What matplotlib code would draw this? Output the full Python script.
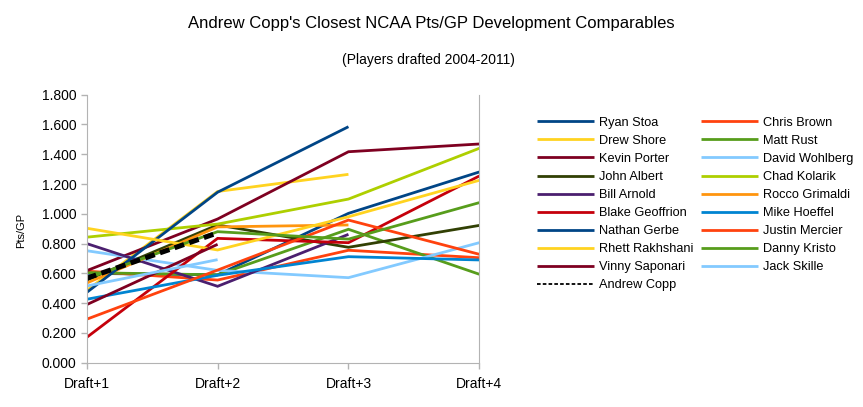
import numpy as np
import matplotlib
matplotlib.use("Agg")
import matplotlib.pyplot as plt

plt.rcParams["font.family"] = ["Liberation Sans", "DejaVu Sans"]

nan = np.nan

stages = ["Draft+1", "Draft+2", "Draft+3", "Draft+4"]

# comparables, in the order the sheet lists them
players = [
    "Ryan Stoa", "Chris Brown", "Drew Shore", "Matt Rust", "Kevin Porter",
    "David Wohlberg", "John Albert", "Chad Kolarik", "Bill Arnold",
    "Rocco Grimaldi", "Blake Geoffrion", "Mike Hoeffel", "Nathan Gerbe",
    "Justin Mercier", "Rhett Rakhshani", "Danny Kristo", "Vinny Saponari",
    "Jack Skille",
]

ryan_stoa = [0.600, 0.590, 1.003, 1.281]
chris_brown = [0.615, 0.555, 0.755, 0.705]
drew_shore = [0.485, 1.150, 1.265, nan]
matt_rust = [0.605, 0.590, 0.896, 0.594]
kevin_porter = [0.618, 0.965, 1.417, 1.469]
david_wohlberg = [0.752, 0.620, 0.571, 0.806]
john_albert = [0.555, 0.925, 0.775, 0.922]
chad_kolarik = [0.843, 0.931, 1.099, 1.440]
bill_arnold = [0.800, 0.513, 0.862, nan]
rocco_grimaldi = [0.535, 0.912, 0.925, nan]
blake_geoffrion = [0.170, 0.835, 0.806, 1.254]
mike_hoeffel = [0.426, 0.587, 0.712, 0.690]
nathan_gerbe = [0.472, 1.145, 1.585, nan]
justin_mercier = [0.292, 0.622, 0.958, 0.728]
rhett_rakhshani = [0.903, 0.757, 0.980, 1.225]
danny_kristo = [0.565, 0.880, 0.830, 1.075]
vinny_saponari = [0.390, 0.795, nan, nan]
jack_skille = [0.515, 0.692, nan, nan]

andrew_copp = [0.567, 0.872, nan, nan]

values = [
    ryan_stoa, chris_brown, drew_shore, matt_rust, kevin_porter,
    david_wohlberg, john_albert, chad_kolarik, bill_arnold, rocco_grimaldi,
    blake_geoffrion, mike_hoeffel, nathan_gerbe, justin_mercier,
    rhett_rakhshani, danny_kristo, vinny_saponari, jack_skille,
]

# office chart default palette, wraps after 12
palette = ["#004586", "#ff420e", "#ffd320", "#579d1c", "#7e0021", "#83caff",
           "#314004", "#aecf00", "#4b1f6f", "#ff950e", "#c5000b", "#0084d1"]

fig = plt.figure(figsize=(8.63, 4.07), dpi=100)
ax = fig.add_axes([0.1005, 0.1089, 0.4549, 0.6584])

x = np.arange(len(stages))
lines = []
for i, (name, vals) in enumerate(zip(players, values)):
    ln, = ax.plot(x, vals, color=palette[i % 12], lw=2.0, label=name,
                  solid_capstyle="butt", solid_joinstyle="miter")
    lines.append(ln)

copp_line, = ax.plot(x, andrew_copp, color="black", lw=3.6,
                     dashes=(2.0, 1.1), label="Andrew Copp")

ax.set_xlim(0, 3)
ax.set_ylim(0, 1.8)
ax.set_xticks(x)
ax.set_xticklabels(stages, fontsize=10)
ax.set_yticks(np.arange(0, 1.81, 0.2))
ax.set_yticklabels(["%.3f" % v for v in np.arange(0, 1.81, 0.2)], fontsize=10)
ax.tick_params(axis="both", color="#b3b3b3", length=4, width=1)
ax.tick_params(axis="x", pad=6)
for side in ["left", "right", "bottom"]:
    ax.spines[side].set_color("#b3b3b3")
ax.spines["top"].set_visible(False)

fig.text(0.024, 0.435, "Pts/GP", rotation=90, fontsize=8,
         ha="center", va="center")

fig.text(0.5, 0.943, "Andrew Copp's Closest NCAA Pts/GP Development Comparables",
         fontsize=12, ha="center", va="center")
fig.text(0.496, 0.853, "(Players drafted 2004-2011)", fontsize=10,
         ha="center", va="center")

# left column gets the even series plus Copp, right column the odd ones
order = list(range(0, 18, 2)) + [18] + list(range(1, 18, 2))
all_lines = lines + [copp_line]
leg_lines = [all_lines[k] for k in order]
leg = fig.legend(leg_lines, [l.get_label() for l in leg_lines],
                 loc="upper left", bbox_to_anchor=(0.622, 0.713),
                 ncol=2, frameon=False, fontsize=9.2, handlelength=4.45,
                 handletextpad=0.4, labelspacing=0.475, columnspacing=0.65,
                 borderpad=0, borderaxespad=0)
for h in leg.legend_handles[:-1]:
    h.set_linewidth(2.0)
leg.legend_handles[order.index(18)].set_linewidth(1.3)
leg.legend_handles[order.index(18)].set_dashes((2.0, 1.2))

fig.savefig("out.png", dpi=100)
